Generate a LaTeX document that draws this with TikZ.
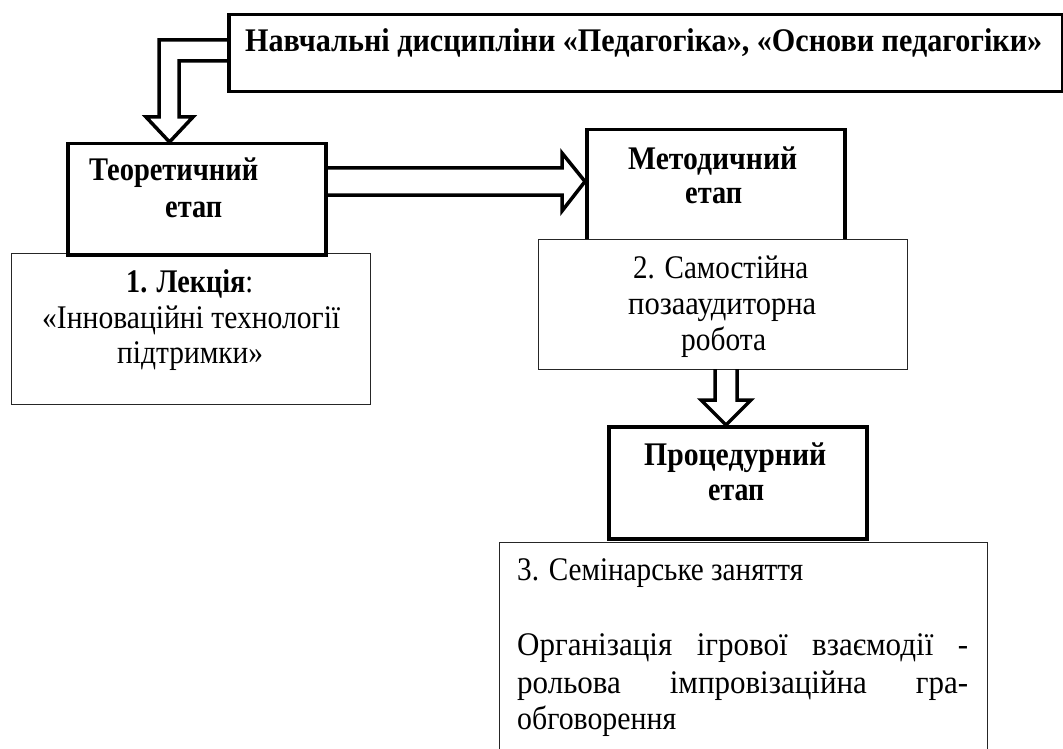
\documentclass[tikz,border=0pt]{standalone}
\usepackage{graphicx}
\usepackage{fontspec}
\setmainfont{Liberation Serif}
\usetikzlibrary{calc}
% set a line to a given width, keeping its height
\newcommand{\fitto}[2]{\resizebox{#1}{\height}{#2}}
\begin{document}
\begin{tikzpicture}[x=1pt,y=-1pt,
  thinbox/.style={draw=black!85, fill=white, line width=1.3pt, inner sep=0pt, anchor=north west},
  thickbox/.style={draw=black, fill=white, line width=3.5pt, inner sep=0pt, anchor=north west},
  arrowline/.style={draw=black, line width=3.5pt, line join=miter},
  txt/.style={inner sep=0pt, font=\fontsize{33}{38}\selectfont},
  btxt/.style={inner sep=0pt, font=\fontsize{33}{38}\selectfont\bfseries}]
\useasboundingbox (0,0) rectangle (1063,749);

% boxes with thin frames (drawn first)
\node[thinbox, minimum width=359pt, minimum height=151pt] (lec) at (11,253) {};
\node[thinbox, minimum width=488pt, minimum height=230pt] (sem) at (499,542) {};

% stage boxes with heavy frames
\node[thickbox, minimum width=834pt, minimum height=77pt] (top) at (227,13) {};
\node[thickbox, minimum width=258pt, minimum height=111pt] (teor) at (66,142) {};
\node[thickbox, minimum width=258pt, minimum height=116pt] (meth) at (585,128) {};
\node[thickbox, minimum width=258pt, minimum height=112pt] (proc) at (607,425) {};
% independent work box overlaps the bottom of the methodical box
\node[thinbox, minimum width=369pt, minimum height=130pt] (sam) at (538,239) {};

% texts
\node[btxt, anchor=base west] (ttop) at (245,52) {\fitto{797pt}{Навчальні дисципліни «Педагогіка», «Основи педагогіки»}};

\node[btxt, anchor=base west] (tteor1) at (89,180) {\fitto{169pt}{Теоретичний}};
\node[btxt, anchor=base west] (tteor2) at (165,217) {\fitto{57pt}{етап}};

\node[txt, anchor=base west] (tlec1) at (126,292) {\fitto{127pt}{\textbf{1. Лекція}:}};
\node[txt, anchor=base west] (tlec2) at (42,328) {\fitto{298pt}{«Інноваційні технології}};
\node[txt, anchor=base west] (tlec3) at (117,363) {\fitto{146pt}{підтримки»}};

\node[btxt, anchor=base west] (tmeth1) at (628,169) {\fitto{169pt}{Методичний}};
\node[btxt, anchor=base west] (tmeth2) at (685,204) {\fitto{57pt}{етап}};

\node[txt, anchor=base west] (tsam1) at (633,278) {\fitto{175pt}{2. Самостійна}};
\node[txt, anchor=base west] (tsam2) at (628,314) {\fitto{188pt}{позааудиторна}};
\node[txt, anchor=base west] (tsam3) at (681,350) {\fitto{85pt}{робота}};

\node[btxt, anchor=base west] (tproc1) at (644,465) {\fitto{182pt}{Процедурний}};
\node[btxt, anchor=base west] (tproc2) at (708,500) {\fitto{56pt}{етап}};

\node[txt, anchor=base west] (tsem1) at (517,580) {\fitto{286pt}{3. Семінарське заняття}};
\node[txt, anchor=base west] (tsem2) at (517,655) {\fitto{451pt}{\makebox[480pt][s]{Організація\hfill ігрової\hfill взаємодії\hfill -}}};
\node[txt, anchor=base west] (tsem3) at (517,693) {\fitto{451pt}{\makebox[480pt][s]{рольова\hfill імпровізаційна\hfill гра-}}};
\node[txt, anchor=base west] (tsem4) at (517,729) {\fitto{159pt}{обговорення}};

% hollow L-shaped arrow: disciplines -> theoretical stage
\coordinate (t1) at ($(teor.north west)+(103.5,0)$);
\draw[arrowline] ($(top.north west)+(0,27)$) -| ($(t1)+(-10.5,-25)$) -- ++(-13,0) -- (t1)
  -- ($(t1)+(23.5,-25)$) -- ++(-14,0) |- ($(top.north west)+(0,48)$);

% hollow arrow: theoretical -> methodical stage
\coordinate (t2) at ($(meth.north west)+(0,53.5)$);
\draw[arrowline] ($(teor.north east)+(0,26)$) -- ($(t2)+(-23,-13.5)$) -- ++(0,-15) -- (t2)
  -- ($(t2)+(-23,29.5)$) -- ++(0,-16) -- ($(teor.north east)+(0,53)$);

% hollow arrow: independent work -> procedural stage
\coordinate (t3) at ($(proc.north west)+(119,0)$);
\draw[arrowline] ($(t3)+(-11,-56)$) -- ++(0,31) -- ++(-14,0) -- (t3)
  -- ($(t3)+(25,-25)$) -- ++(-14,0) -- ++(0,-31);
\end{tikzpicture}
\end{document}
